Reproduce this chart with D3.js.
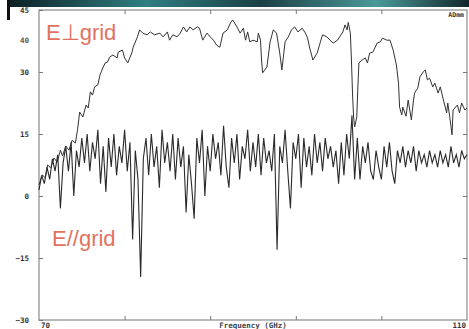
<!DOCTYPE html>
<html>
<head>
<meta charset="utf-8">
<script src="https://cdn.jsdelivr.net/npm/d3@7"></script>
<style>
  body { margin: 0; background: #fff; }
  svg { display: block; }
</style>
</head>
<body>
<div id="chart"></div>
<script>
// E perpendicular to grid (upper trace)
const perpFreq = [70.0, 70.3, 70.6, 70.8, 71.1, 71.4, 71.7, 72.0, 72.2, 72.5, 72.8, 73.1, 73.4, 73.6, 73.8, 74.1, 74.4, 74.6, 74.8, 75.0,
  75.2, 75.5, 75.7, 76.0, 76.2, 76.4, 76.6, 76.9, 77.3, 77.4, 77.8, 78.0, 78.3, 78.7, 78.8, 79.2, 79.4, 79.7, 80.1, 80.4,
  80.8, 81.3, 81.6, 82.0, 82.2, 82.5, 82.9, 83.2, 83.5, 83.8, 84.1, 84.4, 84.8, 85.0, 85.3, 85.7, 86.0, 86.3, 86.6, 86.9,
  87.2, 87.6, 87.9, 88.1, 88.5, 88.8, 89.1, 89.3, 89.5, 89.7, 90.0, 90.4, 90.5, 90.7, 90.8, 90.9, 91.3, 91.6, 91.9, 92.2,
  92.5, 92.7, 93.0, 93.3, 93.6, 93.9, 94.2, 94.6, 94.9, 95.1, 95.3, 95.6, 96.0, 96.3, 96.5, 96.9, 97.2, 97.5, 97.9, 98.1,
  98.4, 98.6, 98.8, 98.9, 99.1, 99.2, 99.3, 99.4, 99.5, 99.7, 99.8, 99.9, 100.2, 100.5, 100.7, 100.9, 101.2, 101.6, 101.9, 102.1,
  102.5, 102.8, 103.1, 103.4, 103.6, 103.7, 103.9, 104.0, 104.3, 104.5, 104.8, 105.0, 105.1, 105.4, 105.6, 105.9, 106.1, 106.3, 106.5, 106.8,
  107.0, 107.3, 107.5, 107.8, 108.1, 108.2, 108.4, 108.6, 108.7, 109.1, 109.3, 109.5, 109.8, 110.0];
const perpVal = [2.7, 5.1, 4.4, 7.5, 6.8, 9.2, 8.2, 11.1, 9.7, 12.1, 11.1, 13.5, 12.8, 16.0, 20.3, 19.1, 22.0, 21.3, 25.2, 24.4,
  26.4, 26.9, 29.3, 31.2, 32.2, 32.4, 33.6, 34.1, 33.4, 34.8, 35.3, 33.4, 32.2, 34.8, 36.0, 38.5, 40.2, 39.4, 39.0, 39.7,
  39.0, 39.4, 38.5, 39.7, 37.7, 39.0, 38.5, 39.4, 40.9, 39.7, 40.9, 40.2, 40.9, 40.6, 37.7, 39.4, 38.5, 37.7, 36.5, 36.0,
  39.4, 40.2, 41.9, 42.6, 40.9, 39.4, 40.6, 37.7, 39.7, 37.3, 37.7, 37.3, 39.4, 37.7, 32.9, 29.8, 31.2, 37.3, 40.2, 39.4,
  34.6, 30.5, 37.3, 38.5, 40.2, 40.9, 39.7, 40.6, 39.4, 38.2, 35.8, 32.9, 34.6, 37.3, 39.0, 38.5, 37.7, 37.0, 37.7, 38.5,
  39.7, 41.4, 40.2, 42.0, 39.4, 32.9, 24.9, 19.1, 16.7, 19.1, 26.4, 32.2, 32.9, 33.4, 32.2, 34.6, 34.8, 37.0, 37.3, 38.2,
  37.7, 37.7, 35.3, 31.7, 27.3, 21.5, 19.6, 21.5, 19.3, 23.2, 18.4, 23.2, 24.9, 26.1, 28.8, 30.0, 30.5, 28.1, 28.5, 26.4,
  27.3, 24.9, 26.4, 23.2, 20.1, 22.5, 18.9, 14.8, 20.8, 22.0, 20.1, 22.5, 20.8, 21.3];

// E parallel to grid (lower trace), sampled every 0.25 GHz from 70 to 110
const parFreq = d3.range(0, 161).map(i => 70 + i * 0.25);
const parVal = [1.5, 5, 3, 7, 4, 9, 6, 10,
  -3, 8, 12, 6, 13, 0, 11, 7,
  14, 8, 15, 6, 13, 9, 16, 3,
  12, 1, 14, 7, 15, 5, 12, 8,
  16, 6, 13, -10.5, 11, 4, -19.6, 9,
  14, 5, 15, 7, 12, 2, 16, 8,
  13, 6, 15, 4, 14, 7, 12, -4,
  10, 3, -5.5, 14, 8, 16, 0, 12,
  6, 15, 9, 13, 5, 17, 7, 2,
  14, 8, 15, 4, 12, 9, 16, 6,
  13, 7, 15, 5, 14, 8, 11, 6,
  15, -13, 12, 8, 16, 6, -3, 13,
  9, 15, 2, 14, 7, 12, 5, 15,
  8, 13, 6, 14, 9, 12, 7, 11,
  3, 13, 5, 15, 9, 19.5, 4, 14,
  4, 12, 8, 13, 6, 4, 11, 7,
  4, 12, 7, 13, 6, 3, 11, 8,
  12, 7, 11, 8, 12, 6, 11, 8,
  10, 7, 11, 8, 10, 7, 11, 8,
  10, 7, 12, 8, 10, 7, 11, 9, 10];

const yTicks = [45, 30, 15, 0, -15, -30];
const xTicks = [78, 86, 94, 102];
const xEndLabels = [{ v: 70, t: "70" }, { v: 110, t: "110" }];
const seriesLabels = ["E\u22A5grid", "E//grid"];

const width = 469, height = 329;
const margin = { top: 10, right: 2, bottom: 9, left: 39 };

const svg = d3.select('#chart').append('svg')
  .attr('width', width)
  .attr('height', height);

// scanned-edge band along the top
const grad = svg.append('defs').append('linearGradient').attr('id', 'band');
grad.append('stop').attr('offset', '0%').attr('stop-color', '#0d1f24');
grad.append('stop').attr('offset', '30%').attr('stop-color', '#2f7f82');
grad.append('stop').attr('offset', '55%').attr('stop-color', '#1b3f45');
grad.append('stop').attr('offset', '80%').attr('stop-color', '#4a9a9a');
grad.append('stop').attr('offset', '100%').attr('stop-color', '#12262b');
svg.append('rect').attr('x', 7).attr('y', 0).attr('width', width - 7).attr('height', 7).attr('fill', 'url(#band)');
svg.append('rect').attr('x', 7).attr('y', 0).attr('width', 3).attr('height', 20).attr('fill', '#111');

const x = d3.scaleLinear().domain([70, 110]).range([margin.left, width - margin.right]);
const y = d3.scaleLinear().domain([-30, 45]).range([height - margin.bottom, margin.top]);

const font = "'DejaVu Sans Mono', monospace";

// frame
svg.append('rect')
  .attr('x', x(70)).attr('y', y(45))
  .attr('width', x(110) - x(70)).attr('height', y(-30) - y(45))
  .attr('fill', 'none').attr('stroke', '#8a8a8a').attr('stroke-width', 1.2);

// left axis with labels
const gLeft = svg.append('g').attr('transform', `translate(${x(70)},0)`)
  .call(d3.axisLeft(y).tickValues(yTicks).tickSizeInner(-4).tickSizeOuter(0).tickPadding(10));
gLeft.select('.domain').remove();
gLeft.selectAll('line').attr('stroke', '#777');
gLeft.selectAll('text').attr('font-family', font).attr('font-weight', 'bold')
  .attr('font-size', 7.5).attr('fill', '#333');

// stray "40" label of the scan
svg.append('text').attr('x', 29).attr('y', y(37.7)).attr('dy', '0.32em')
  .attr('text-anchor', 'end').attr('font-family', font).attr('font-weight', 'bold')
  .attr('font-size', 7.5).attr('fill', '#555').text('40');

// right axis ticks
const gRight = svg.append('g').attr('transform', `translate(${x(110)},0)`)
  .call(d3.axisRight(y).tickValues(yTicks.slice(1, -1)).tickSizeInner(-4).tickSizeOuter(0).tickFormat(''));
gRight.select('.domain').remove();
gRight.selectAll('line').attr('stroke', '#777');

// bottom and top ticks
const gBottom = svg.append('g').attr('transform', `translate(0,${y(-30)})`)
  .call(d3.axisBottom(x).tickValues(xTicks).tickSizeInner(-4).tickSizeOuter(0).tickFormat(''));
gBottom.select('.domain').remove();
gBottom.selectAll('line').attr('stroke', '#777');
const gTop = svg.append('g').attr('transform', `translate(0,${y(45)})`)
  .call(d3.axisTop(x).tickValues(xTicks).tickSizeInner(-4).tickSizeOuter(0).tickFormat(''));
gTop.select('.domain').remove();
gTop.selectAll('line').attr('stroke', '#777');

// x end labels and title
svg.selectAll('.xend').data(xEndLabels).enter().append('text')
  .attr('class', 'xend')
  .attr('x', d => x(d.v) + (d.v === 70 ? 2 : -1))
  .attr('y', 328)
  .attr('text-anchor', d => d.v === 70 ? 'start' : 'end')
  .attr('font-family', font).attr('font-weight', 'bold').attr('font-size', 7.5).attr('fill', '#333')
  .text(d => d.t);
svg.append('text').attr('x', x(90)).attr('y', 328).attr('text-anchor', 'middle')
  .attr('font-family', font).attr('font-weight', 'bold').attr('font-size', 7.5).attr('fill', '#444')
  .text('Frequency (GHz)');

svg.append('text').attr('x', 464).attr('y', 17).attr('text-anchor', 'end')
  .attr('font-family', font).attr('font-weight', 'bold').attr('font-size', 6.5).attr('fill', '#333')
  .text('ADmm');

// traces
const line = d3.line().x(d => x(d[0])).y(d => y(d[1]));

svg.append('path')
  .datum(d3.zip(parFreq, parVal))
  .attr('fill', 'none').attr('stroke', '#2a2a2a').attr('stroke-width', 1.1)
  .attr('d', line);

svg.append('path')
  .datum(d3.zip(perpFreq, perpVal))
  .attr('fill', 'none').attr('stroke', '#333').attr('stroke-width', 1)
  .attr('d', line);

// series labels
svg.append('text').attr('x', 46).attr('y', 39.5)
  .attr('font-family', "'Liberation Sans', Arial, sans-serif").attr('font-size', 22)
  .attr('fill', '#e2725f').text(seriesLabels[0]);
svg.append('text').attr('x', 52).attr('y', 246)
  .attr('font-family', "'Liberation Sans', Arial, sans-serif").attr('font-size', 22)
  .attr('fill', '#e2725f').text(seriesLabels[1]);
</script>
</body>
</html>
